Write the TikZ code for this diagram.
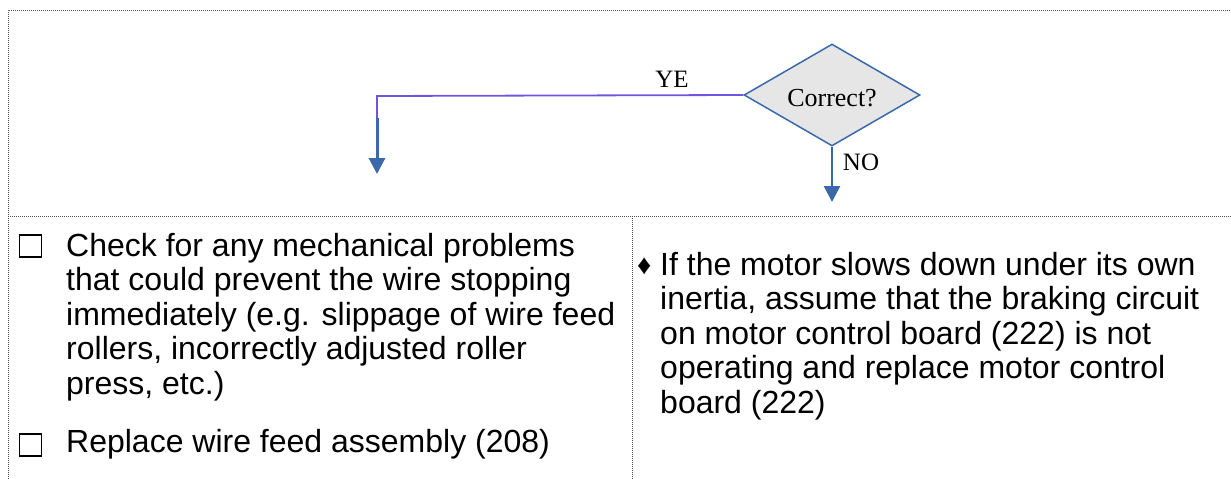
\documentclass[tikz,border=0pt]{standalone}
\usepackage{fontspec}
\setmainfont{Liberation Sans}
\newfontfamily\seriffont{Liberation Serif}
\usetikzlibrary{shapes.geometric,arrows.meta}
\definecolor{flowblue}{RGB}{58,105,170}
\definecolor{flowpurple}{RGB}{112,84,224}
\definecolor{diafill}{RGB}{230,230,230}
\definecolor{framegray}{RGB}{80,80,80}
\tikzset{
  frameline/.style={framegray,line width=1pt,densely dotted},
  decision/.style={diamond,draw=flowblue,fill=diafill,line width=1.5pt,
    minimum width=176pt,minimum height=102pt,aspect=1.725,inner sep=0pt},
  flowlabel/.style={font=\seriffont\fontsize{25}{28}\selectfont,inner sep=0pt},
  bodytext/.style={font=\fontsize{32}{34.5}\selectfont,align=left,inner sep=0pt},
  checkbox/.style={draw=black,line width=1.2pt,minimum width=22pt,minimum height=22pt,inner sep=0pt},
  yesline/.style={flowpurple,line width=1.8pt},
  flowarrow/.style={flowblue,line width=3pt,-{Triangle[length=16pt,width=16pt]}},
}
\begin{document}
\begin{tikzpicture}[x=1pt,y=-1pt]
\useasboundingbox (0,0) rectangle (1231,479);
% frame
\coordinate (tl) at (8,10);
\coordinate (tr) at (1231,10);
\coordinate (bl) at (8,479);
\coordinate (ml) at (8,216);
\coordinate (mr) at (1231,216);
\coordinate (dt) at (632,216);
\coordinate (db) at (632,479);
\draw[frameline] (bl) -- (tl) -- (tr);
\draw[frameline] (ml) -- (mr);
\draw[frameline] (dt) -- (db);
% decision
\node[decision] (dec) at (832,95) {};
\node[flowlabel,font=\seriffont\fontsize{26}{28}\selectfont] (dectext) at (832,98) {Correct?};
\coordinate (yesbend) at (377,96);
\coordinate (yesmid) at (377,118);
\coordinate (yesend) at (377,174);
\coordinate (noend) at (832,202);
\draw[yesline] (dec.west) -- (yesbend) -- (yesmid);
\draw[flowarrow] (yesmid) -- (yesend);
\draw[flowarrow,line width=2.5pt] (dec.south) -- (noend);
\node[flowlabel] (yes) at (672,79) {YE};
\node[flowlabel] (no) at (861,162) {NO};
% left column (anchor at baseline of last line)
\node[checkbox] (cb1) at (30.5,246) {};
\node[bodytext,anchor=base west] (left1) at (66,394) {Check for any mechanical problems\\
that could prevent the wire stopping\\
immediately (e.g. slippage of wire feed\\
rollers, incorrectly adjusted roller\\
press, etc.)};
\node[checkbox] (cb2) at (30.5,445) {};
\node[bodytext,anchor=base west] (left2) at (66,452) {Replace wire feed assembly (208)};
% right column
\node[bodytext,anchor=base west,font=\fontsize{28}{30}\selectfont] (bullet) at (637,274) {♦};
\node[bodytext,anchor=base west] (right1) at (660,413) {If the motor slows down under its own\\
inertia, assume that the braking circuit\\
on motor control board (222) is not\\
operating and replace motor control\\
board (222)};
\end{tikzpicture}
\end{document}
